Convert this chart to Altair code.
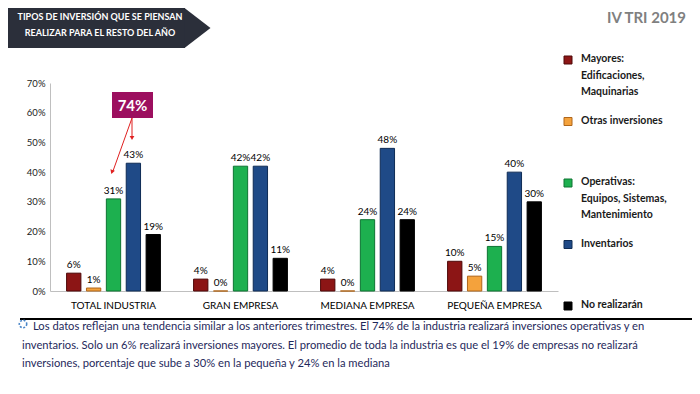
import altair as alt
import pandas as pd

# ---------------- data ----------------
categories = ["TOTAL INDUSTRIA", "GRAN EMPRESA", "MEDIANA EMPRESA", "PEQUEÑA EMPRESA"]
series = ["Mayores", "Otras inversiones", "Operativas", "Inventarios", "No realizarán"]
legend_labels = [
    "Mayores:\nEdificaciones,\nMaquinarias",
    "Otras inversiones",
    "Operativas:\nEquipos, Sistemas,\nMantenimiento",
    "Inventarios",
    "No realizarán",
]
mayores = [6, 4, 4, 10]
otras = [1, 0, 0, 5]
operativas = [31, 42, 24, 15]
inventarios = [43, 42, 48, 40]
no_realizaran = [19, 11, 24, 30]
y_ticks = [0, 10, 20, 30, 40, 50, 60, 70]

fill_colors = ["#8C1515", "#F4A23C", "#1DB04F", "#1F4A87", "#000000"]
stroke_colors = ["#4E0808", "#B0661A", "#0E7433", "#0F2C55", "#000000"]

title_lines = ["TIPOS DE INVERSIÓN QUE SE PIENSAN", "REALIZAR PARA EL RESTO DEL AÑO"]
period_label = "IV TRI 2019"
footer_lines = [
    "Los  datos reflejan una tendencia similar a los anteriores trimestres. El 74% de la industria realizará inversiones operativas y en",
    "inventarios. Solo un 6% realizará inversiones mayores. El promedio de toda la industria es que el 19% de empresas no realizará",
    "inversiones, porcentaje que sube a 30%  en la pequeña y 24% en la  mediana",
]

FONT = "Lato"

# ---------------- tables ----------------
values_by_series = [mayores, otras, operativas, inventarios, no_realizaran]
rows = []
for s, vals in zip(series, values_by_series):
    for c, v in zip(categories, vals):
        rows.append({"categoria": c, "serie": s, "valor": v, "etiqueta": f"{v}%"})
df = pd.DataFrame(rows)

legend_df = pd.DataFrame({"serie": series, "texto": legend_labels, "pos": list(range(len(series)))})
one = pd.DataFrame({"k": [0]})
callout_df = pd.DataFrame({"t": [f"{operativas[0] + inventarios[0]}%"]})
title_df = pd.DataFrame({"t": ["\n".join(title_lines)]})
period_df = pd.DataFrame({"t": [period_label]})
footer1_df = pd.DataFrame({"t": [footer_lines[0]]})
footer2_df = pd.DataFrame({"t": ["\n".join(footer_lines[1:])]})

color_scale = alt.Scale(domain=series, range=fill_colors)
stroke_scale = alt.Scale(domain=series, range=stroke_colors)

x_enc = alt.X(
    "categoria:N", sort=categories,
    scale=alt.Scale(paddingInner=0.23, paddingOuter=0.115),
    axis=alt.Axis(title=None, labelAngle=0, ticks=False, domainColor="#BFBFBF",
                  labelFont=FONT, labelFontSize=10, labelColor="#000000", labelPadding=9),
)
xoff_enc = alt.XOffset("serie:N", sort=series, scale=alt.Scale(paddingInner=0.28, paddingOuter=0.1))

bars = alt.Chart(df).mark_bar(strokeWidth=1).encode(
    x=x_enc,
    xOffset=xoff_enc,
    y=alt.Y("valor:Q", scale=alt.Scale(domain=[0, 70]),
            axis=alt.Axis(values=y_ticks, labelExpr="datum.value + '%'", ticks=False, grid=False,
                          domainColor="#BFBFBF", labelFont=FONT, labelFontSize=9.5,
                          labelColor="#222222", labelPadding=5, title=None)),
    color=alt.Color("serie:N", scale=color_scale, legend=None),
    stroke=alt.Stroke("serie:N", scale=stroke_scale, legend=None),
)

bar_labels = alt.Chart(df).mark_text(baseline="bottom", dy=-3, font=FONT, fontSize=10, color="#000000").encode(
    x=x_enc,
    xOffset=xoff_enc,
    y=alt.Y("valor:Q", scale=alt.Scale(domain=[0, 70]), axis=None),
    text="etiqueta:N",
)

# legend (custom, to the right)
leg_y = alt.Y("pos:Q", scale=alt.Scale(domain=[0, 4], range=[-23, 223]), axis=None)
legend_sq = alt.Chart(legend_df).mark_square(size=64, opacity=1, filled=True, strokeWidth=1).encode(
    x=alt.value(518), y=leg_y,
    color=alt.Color("serie:N", scale=color_scale, legend=None),
    stroke=alt.Stroke("serie:N", scale=stroke_scale, legend=None),
)
legend_txt = alt.Chart(legend_df).mark_text(
    align="left", baseline="top", dy=-6, lineBreak="\n", lineHeight=16.5,
    font=FONT, fontSize=10.5, fontWeight="bold", color="#1A1A1A",
).encode(x=alt.value(531), y=leg_y, text="texto:N")

# header box
title_box = alt.Chart(one).mark_rect(color="#2B2F3A").encode(
    x=alt.value(-42), x2=alt.value(135), y=alt.value(-75), y2=alt.value(-35))
title_tip = alt.Chart(one).mark_point(
    shape="M 0 -1 L 1.3 0 L 0 1 Z", filled=True, size=1600, opacity=1, color="#2B2F3A", strokeWidth=0
).encode(x=alt.value(134.5), y=alt.value(-55))
title_txt = alt.Chart(title_df).mark_text(
    align="center", baseline="top", lineBreak="\n", lineHeight=16,
    font=FONT, fontSize=9, fontWeight="bold", color="#FFFFFF",
).encode(x=alt.value(50), y=alt.value(-70), text="t:N")

period_txt = alt.Chart(period_df).mark_text(
    align="right", baseline="middle", font=FONT, fontSize=15, fontWeight="bold", color="#808080"
).encode(x=alt.value(636), y=alt.value(-65), text="t:N")

# callout 74%
callout_box = alt.Chart(one).mark_rect(color="#9C0F5F").encode(
    x=alt.value(62), x2=alt.value(103), y=alt.value(9), y2=alt.value(35))
callout_txt = alt.Chart(callout_df).mark_text(
    align="center", baseline="middle", font=FONT, fontSize=15, fontWeight="bold", color="#FFFFFF"
).encode(x=alt.value(82.5), y=alt.value(22.5), text="t:N")
arrow1 = alt.Chart(one).mark_rule(color="#E02020", strokeWidth=1).encode(
    x=alt.value(82), y=alt.value(35), x2=alt.value(63), y2=alt.value(88))
arrow2 = alt.Chart(one).mark_rule(color="#E02020", strokeWidth=1).encode(
    x=alt.value(82), y=alt.value(35), x2=alt.value(82), y2=alt.value(53))
head1 = alt.Chart(one).mark_point(shape="triangle-down", size=22, filled=True, opacity=1, color="#E02020", angle=19).encode(
    x=alt.value(62), y=alt.value(89))
head2 = alt.Chart(one).mark_point(shape="triangle-down", size=22, filled=True, opacity=1, color="#E02020").encode(
    x=alt.value(82), y=alt.value(55))

# footer
footer_rule = alt.Chart(one).mark_rule(color="#000000", strokeWidth=2).encode(
    x=alt.value(-30), x2=alt.value(642), y=alt.value(236))
footer_icon = alt.Chart(one).mark_point(
    shape="circle", size=55, filled=False, opacity=1, color="#4A86C8", strokeWidth=1.6, strokeDash=[2, 1.5]
).encode(x=alt.value(-27), y=alt.value(241))
footer1 = alt.Chart(footer1_df).mark_text(
    align="left", baseline="top", font=FONT, fontSize=11.2, color="#1F2A5C"
).encode(x=alt.value(-17), y=alt.value(238), text="t:N")
footer2 = alt.Chart(footer2_df).mark_text(
    align="left", baseline="top", lineBreak="\n", lineHeight=18.5, font=FONT, fontSize=11.2, color="#1F2A5C"
).encode(x=alt.value(-28), y=alt.value(256.5), text="t:N")

chart = alt.layer(
    title_box, title_tip, title_txt, period_txt,
    bars, bar_labels,
    legend_sq, legend_txt,
    callout_box, callout_txt, arrow1, arrow2, head1, head2,
    footer_rule, footer_icon, footer1, footer2,
).resolve_scale(y="independent").properties(
    width=508, height=208,
    autosize=alt.AutoSizeParams(type="none"),
    padding={"left": 42, "top": 75, "right": 134, "bottom": 95},
    background="#FFFFFF",
).configure_view(stroke=None)

chart.save("out.html", embed_options={"renderer": "svg", "actions": False})
